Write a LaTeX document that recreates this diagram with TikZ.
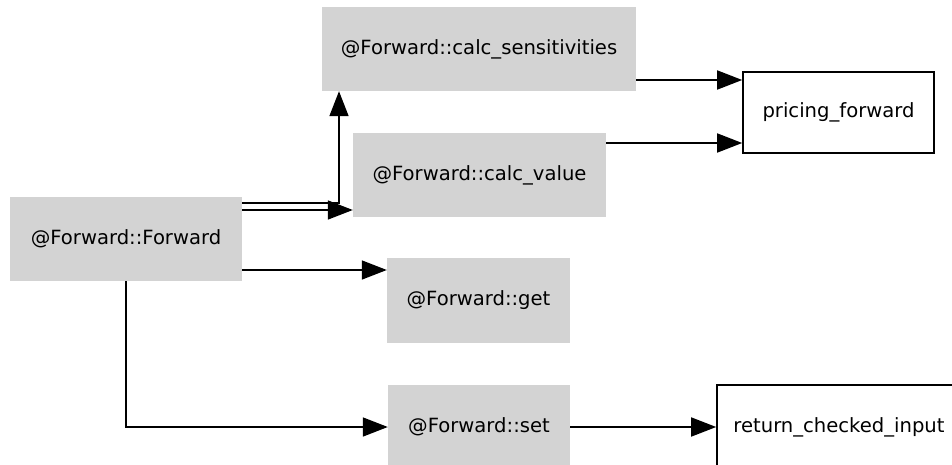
\documentclass[tikz,border=0pt]{standalone}
\usepackage{fontspec}
\setmainfont{DejaVu Sans}
\usetikzlibrary{arrows.meta}
\definecolor{boxgray}{HTML}{D3D3D3}
\begin{document}
\begin{tikzpicture}[x=1pt,y=-1pt,
  fn/.style={fill=boxgray,draw=none,inner sep=0pt,font=\fontsize{19.6}{22}\selectfont},
  ext/.style={fill=white,draw=black,line width=1.6pt,inner sep=0pt,font=\fontsize{19.6}{22}\selectfont},
  arr/.style={line width=1.6pt,-{Triangle[length=25pt,width=19pt]}},
  ln/.style={line width=1.6pt}]
\useasboundingbox (0,0) rectangle (952,465);
\node[fn,minimum width=232pt,minimum height=84pt] (F) at (126,239) {@Forward::Forward};
\node[fn,minimum width=314pt,minimum height=84pt] (cs) at (479,49) {@Forward::calc\_sensitivities};
\node[fn,minimum width=253pt,minimum height=84pt] (cv) at (479.5,175) {@Forward::calc\_value};
\node[fn,minimum width=183pt,minimum height=85pt] (get) at (478.5,300.5) {@Forward::get};
\node[fn,minimum width=182pt,minimum height=84pt] (set) at (479,427) {@Forward::set};
\node[ext,minimum width=191pt,minimum height=81pt] (pf) at (838.5,112.5) {pricing\_forward};
\node[ext,minimum width=244pt,minimum height=84pt] (rci) at (839,427) {return\_checked\_input};
\coordinate (k) at (339,203);
\draw[arr] (F.east |- k) -- (k) -- (k |- cs.south);
\draw[arr] (F.east |- 0,210) -- (cv.west |- 0,210);
\draw[arr] (F.east |- 0,270) -- (get.west |- 0,270);
\draw[arr] (F.south) |- (set.west);
\draw[arr] (cs.east |- 0,80) -- (pf.west |- 0,80);
\draw[arr] (cv.east |- 0,143) -- (pf.west |- 0,143);
\draw[arr] (set.east) -- (rci.west);
\end{tikzpicture}
\end{document}
